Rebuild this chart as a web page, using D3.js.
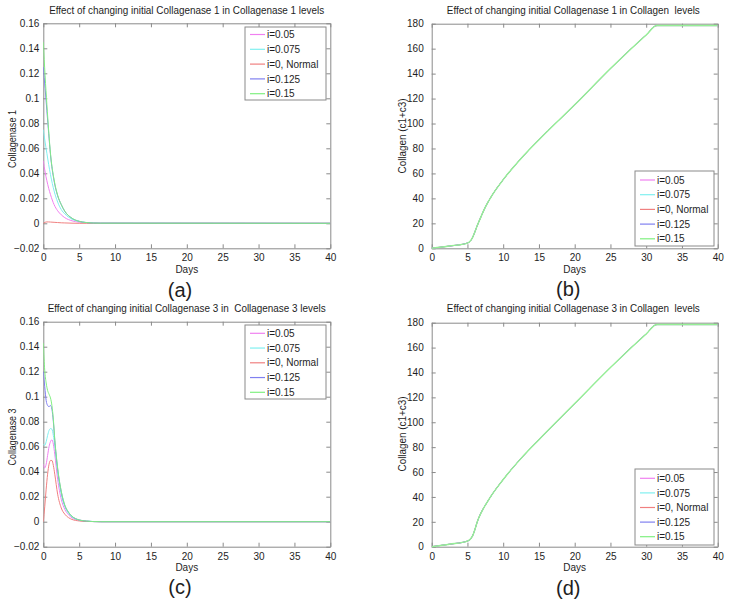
<!DOCTYPE html>
<html><head><meta charset="utf-8">
<script src="https://cdn.jsdelivr.net/npm/d3@7/dist/d3.min.js"></script>
<style>
body{margin:0;background:#fff;}
svg{display:block;font-family:"Liberation Sans",Arial,sans-serif;}
</style></head>
<body>
<svg id="chart" width="729" height="605"></svg>
<script>
// ---------- DATA ----------
const seriesNames = ["i=0.05", "i=0.075", "i=0, Normal", "i=0.125", "i=0.15"];
const seriesColors = ["#f080f0", "#80f0f0", "#f08080", "#8080f0", "#80f080"];
const xTicks = [0, 5, 10, 15, 20, 25, 30, 35, 40];
const yTicksEnz = [-0.02, 0, 0.02, 0.04, 0.06, 0.08, 0.1, 0.12, 0.14, 0.16];
const yTicksCol = [0, 20, 40, 60, 80, 100, 120, 140, 160, 180];

// Panel (a): Collagenase 1
const tA = [0, 0.25, 0.5, 0.75, 1, 1.5, 2, 2.5, 3, 4, 5, 6, 7, 8, 40];
const aPink  = [0.05, 0.041, 0.034, 0.028, 0.023, 0.015, 0.010, 0.0068, 0.0045, 0.002, 0.0009, 0.0004, 0.0002, 0.0001, 0];
const aCyan  = [0.075, 0.065, 0.056, 0.047, 0.039, 0.026, 0.017, 0.011, 0.0075, 0.0033, 0.0014, 0.0006, 0.0002, 0.0001, 0];
const aRed   = [0, 0.0008, 0.0011, 0.0011, 0.001, 0.0008, 0.0006, 0.0004, 0.0003, 0.0001, 0, 0, 0, 0, 0];
const aBlue  = [0.125, 0.108, 0.09, 0.072, 0.055, 0.034, 0.022, 0.015, 0.0095, 0.004, 0.0016, 0.0006, 0.0002, 0.0001, 0];
const aGreen = [0.145, 0.118, 0.095, 0.074, 0.056, 0.035, 0.0225, 0.015, 0.0097, 0.0041, 0.0016, 0.0006, 0.0002, 0.0001, 0];

// Panel (b): Collagen (c1+c3)
const tB = [0, 2.5, 5, 5.5, 6.5, 7.5, 8.5, 10, 12.5, 15, 20, 25, 30, 31.5, 40];
const bCol = [0, 1.8, 4.2, 6.5, 20, 33, 43, 55, 72, 87, 115, 144, 171, 178.5, 178.5];

// Panel (c): Collagenase 3
const tC = [0, 0.2, 0.4, 0.6, 0.8, 1.0, 1.2, 1.4, 1.6, 2, 2.5, 3, 3.5, 4, 5, 6, 7, 8, 40];
const cPink  = [0.046, 0.043, 0.046, 0.053, 0.06, 0.064, 0.0655, 0.062, 0.054, 0.034, 0.018, 0.0098, 0.0056, 0.0031, 0.001, 0.0003, 0.0001, 0, 0];
const cCyan  = [0.062, 0.061, 0.064, 0.069, 0.073, 0.0745, 0.074, 0.069, 0.061, 0.040, 0.022, 0.012, 0.0068, 0.0038, 0.0012, 0.0004, 0.0001, 0, 0];
const cRed   = [0, 0.012, 0.026, 0.038, 0.046, 0.049, 0.049, 0.045, 0.038, 0.022, 0.011, 0.006, 0.0033, 0.0018, 0.0006, 0.0002, 0.0001, 0, 0];
const cBlue  = [0.12, 0.108, 0.097, 0.093, 0.092, 0.093, 0.09, 0.08, 0.065, 0.042, 0.024, 0.013, 0.0076, 0.0043, 0.0014, 0.0005, 0.0001, 0, 0];
const cGreen = [0.143, 0.121, 0.111, 0.105, 0.102, 0.099, 0.093, 0.082, 0.066, 0.043, 0.0245, 0.0133, 0.0077, 0.0044, 0.0014, 0.0005, 0.0001, 0, 0];

// Panel (d): Collagen (c1+c3)
const tD = [0, 2.5, 5, 5.7, 6.5, 8, 10, 12.5, 15, 20, 25, 30, 31.5, 40];
const dCol = [0, 2, 4.5, 8.5, 22, 38, 54, 71, 86, 115, 144, 171, 178.5, 178.5];

// ---------- DRAW ----------
const svg = d3.select("#chart");
const AXIS = "#8a8a8a", TXT = "#1e1e1e";

function drawPanel(p) {
  const x = d3.scaleLinear().domain([0, 40]).range([p.left, p.right]);
  const y = d3.scaleLinear().domain(p.yDomain).range([p.bottom, p.top]);
  const g = svg.append("g");
  const clipId = "clip" + p.id;
  g.append("clipPath").attr("id", clipId).append("rect")
    .attr("x", p.left).attr("y", p.top - 1).attr("width", p.right - p.left).attr("height", p.bottom - p.top + 2);

  const axB = d3.axisBottom(x).tickValues(xTicks).tickSizeInner(-4).tickSizeOuter(0).tickPadding(6).tickFormat(d3.format("d"));
  const axT = d3.axisTop(x).tickValues(xTicks).tickSizeInner(-4).tickSizeOuter(0).tickFormat("");
  const axL = d3.axisLeft(y).tickValues(p.yTicks).tickSizeInner(-4).tickSizeOuter(0).tickPadding(p.ypad).tickFormat(p.fmt);
  const axR = d3.axisRight(y).tickValues(p.yTicks).tickSizeInner(-4).tickSizeOuter(0).tickFormat("");
  [[axB, `translate(0,${p.bottom})`], [axT, `translate(0,${p.top})`], [axL, `translate(${p.left},0)`], [axR, `translate(${p.right},0)`]].forEach(([ax, tr]) => {
    const a = g.append("g").attr("transform", tr).call(ax);
    a.select(".domain").attr("stroke", AXIS).attr("stroke-width", 1);
    a.selectAll(".tick line").attr("stroke", AXIS);
    a.selectAll(".tick text").attr("fill", TXT).attr("font-size", 10).attr("font-family", '"Liberation Sans",Arial,sans-serif');
  });

  const line = d3.line().x(d => x(d[0])).y(d => y(d[1])).curve(d3.curveMonotoneX);
  const n = p.series.length;
  p.series.forEach((vals, i) => {
    const pts = p.t.map((tt, j) => [tt, vals[j]]);
    g.append("path").attr("clip-path", `url(#${clipId})`).attr("d", line(pts))
      .attr("fill", "none").attr("stroke", (i === n - 1 && p.overlap) ? "#96f096" : seriesColors[i])
      .attr("stroke-width", (i === n - 1 && p.overlap) ? 1.4 : 1);
  });

  g.append("text").attr("x", p.titleX).attr("y", p.titleY).attr("text-anchor", "middle")
    .attr("font-size", 11).attr("fill", TXT).attr("textLength", p.titleW).attr("lengthAdjust", "spacingAndGlyphs")
    .style("white-space", "pre").text(p.title);
  g.append("text").attr("x", (p.left + p.right) / 2).attr("y", p.daysY).attr("text-anchor", "middle")
    .attr("font-size", 10).attr("fill", TXT).text("Days");
  g.append("text").attr("transform", `translate(${p.ylabX},${p.ylabY}) rotate(-90)`).attr("text-anchor", "middle")
    .attr("font-size", 10.5).attr("fill", TXT).attr("textLength", p.ylabW).attr("lengthAdjust", "spacingAndGlyphs").text(p.ylabel);
  g.append("text").attr("x", p.letX).attr("y", p.letY).attr("text-anchor", "middle")
    .attr("font-size", 20).attr("fill", TXT).text(p.letter);

  const L = p.legend;
  const lg = g.append("g");
  lg.append("rect").attr("x", L.x).attr("y", L.y).attr("width", L.w).attr("height", L.h)
    .attr("fill", "#fff").attr("stroke", AXIS).attr("stroke-width", 1);
  seriesNames.forEach((nm, i) => {
    const yy = L.y0 + i * L.dy;
    lg.append("line").attr("x1", L.x + 5).attr("x2", L.x + 20).attr("y1", yy).attr("y2", yy)
      .attr("stroke", seriesColors[i]).attr("stroke-width", 1.2);
    lg.append("text").attr("x", L.x + 22).attr("y", yy + 3.6).attr("font-size", 10).attr("fill", TXT).text(nm);
  });
}

const fmtEnz = d => d === 0 ? "0" : d3.format("")(+d.toFixed(2));

drawPanel({id: "a", left: 43.3, right: 330.3, top: 23.3, bottom: 248.3, yDomain: [-0.02, 0.16], yTicks: yTicksEnz, fmt: fmtEnz, ypad: 4,
  t: tA, series: [aPink, aCyan, aRed, aBlue, aGreen], overlap: false,
  title: "Effect of changing initial Collagenase 1 in Collagenase 1 levels", titleX: 186.7, titleY: 14, titleW: 275,
  daysY: 273, ylabel: "Collagenase 1", ylabX: 16, ylabY: 139, ylabW: 58, letter: "(a)", letX: 180, letY: 297,
  legend: {x: 245, y: 27, w: 81, h: 73, y0: 34.5, dy: 14.8}});

drawPanel({id: "b", left: 431.7, right: 717.7, top: 23.7, bottom: 248.3, yDomain: [0, 180], yTicks: yTicksCol, fmt: d3.format("d"), ypad: 8,
  t: tB, series: [bCol, bCol, bCol, bCol, bCol], overlap: true,
  title: "Effect of changing initial Collagenase 1 in Collagen  levels", titleX: 573.3, titleY: 14, titleW: 253,
  daysY: 273, ylabel: "Collagen (c1+c3)", ylabX: 406, ylabY: 136, ylabW: 75, letter: "(b)", letX: 568.3, letY: 296,
  legend: {x: 635, y: 171, w: 79, h: 75, y0: 180, dy: 14.7}});

drawPanel({id: "c", left: 43.3, right: 330.3, top: 321.7, bottom: 546.7, yDomain: [-0.02, 0.16], yTicks: yTicksEnz, fmt: fmtEnz, ypad: 4,
  t: tC, series: [cPink, cCyan, cRed, cBlue, cGreen], overlap: false,
  title: "Effect of changing initial Collagenase 3 in  Collagenase 3 levels", titleX: 186.7, titleY: 312, titleW: 278,
  daysY: 571, ylabel: "Collagenase 3", ylabX: 15.5, ylabY: 437, ylabW: 57, letter: "(c)", letX: 180, letY: 594,
  legend: {x: 245, y: 325, w: 81, h: 74, y0: 333.3, dy: 14.75}});

drawPanel({id: "d", left: 431.7, right: 717.7, top: 322.7, bottom: 546.7, yDomain: [0, 180], yTicks: yTicksCol, fmt: d3.format("d"), ypad: 8,
  t: tD, series: [dCol, dCol, dCol, dCol, dCol], overlap: true,
  title: "Effect of changing initial Collagenase 3 in Collagen  levels", titleX: 573.3, titleY: 312, titleW: 253,
  daysY: 571, ylabel: "Collagen (c1+c3)", ylabX: 406, ylabY: 434, ylabW: 75, letter: "(d)", letX: 568.3, letY: 595,
  legend: {x: 635, y: 469, w: 79, h: 76, y0: 478.3, dy: 14.6}});
</script>
</body></html>
